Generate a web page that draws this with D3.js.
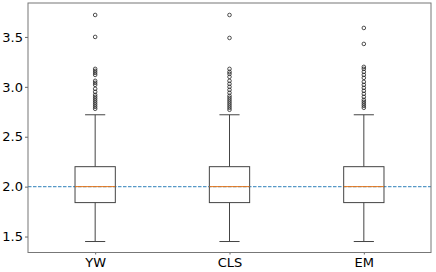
<!DOCTYPE html>
<html>
<head>
<meta charset="utf-8">
<script src="https://cdn.jsdelivr.net/npm/d3@7"></script>
<style>
    body { margin: 0; background: #fff; }
    svg { display: block; font-family: "DejaVu Sans", sans-serif; }
</style>
</head>
<body>
<div id="chart"></div>
<script>
const width = 436;
const height = 272;
const margin = {top: 3, right: 5, bottom: 19, left: 28};

// box statistics per method
const categories = ['YW', 'CLS', 'EM'];
const q1Values = [1.84, 1.84, 1.84];
const medianValues = [2.0, 2.0, 2.0];
const q3Values = [2.2, 2.2, 2.2];
const whiskerLow = [1.45, 1.45, 1.45];
const whiskerHigh = [2.72, 2.72, 2.72];
const outliersYW = [3.72, 3.50, 3.18, 3.16, 3.14, 3.12, 3.06, 3.04, 3.02, 2.98, 2.95, 2.92, 2.90, 2.88, 2.86, 2.84, 2.82, 2.80, 2.78];
const outliersCLS = [3.72, 3.49, 3.18, 3.15, 3.13, 3.10, 3.06, 3.03, 3.00, 2.97, 2.94, 2.91, 2.89, 2.87, 2.85, 2.83, 2.81, 2.79, 2.77];
const outliersEM = [3.59, 3.43, 3.20, 3.18, 3.15, 3.12, 3.09, 3.05, 3.02, 2.99, 2.96, 2.93, 2.90, 2.87, 2.85, 2.83, 2.81, 2.79];
const referenceValue = 2.0;
const yTicks = [1.5, 2.0, 2.5, 3.0, 3.5];

const outliers = [outliersYW, outliersCLS, outliersEM];

const svg = d3.select('#chart')
    .append('svg')
    .attr('width', width)
    .attr('height', height);

let x = d3.scaleLinear()
    .domain([0.5, 3.5])
    .range([margin.left, width - margin.right]);

let y = d3.scaleLinear()
    .domain([1.34, 3.84])
    .range([height - margin.bottom - 0.5, margin.top]);

const boxWidth = 0.3;
const capWidth = 0.15;

// reference line at 2.0
svg.append('line')
    .attr('x1', x(0.5))
    .attr('x2', x(3.5))
    .attr('y1', y(referenceValue))
    .attr('y2', y(referenceValue))
    .attr('stroke', '#1f77b4')
    .attr('stroke-opacity', 0.75)
    .attr('stroke-width', 1.2)
    .attr('stroke-dasharray', '3.5,1.5');

const boxes = svg.selectAll('g.box')
    .data(categories)
    .enter()
    .append('g')
    .attr('class', 'box');

boxes.each(function (d, i) {
    let g = d3.select(this);
    let pos = i + 1;
    // whiskers
    g.append('line')
        .attr('x1', x(pos)).attr('x2', x(pos))
        .attr('y1', y(q3Values[i])).attr('y2', y(whiskerHigh[i]))
        .attr('stroke', '#444').attr('stroke-width', 1);
    g.append('line')
        .attr('x1', x(pos)).attr('x2', x(pos))
        .attr('y1', y(q1Values[i])).attr('y2', y(whiskerLow[i]))
        .attr('stroke', '#444').attr('stroke-width', 1);
    // caps
    [whiskerHigh[i], whiskerLow[i]].forEach(v => {
        g.append('line')
            .attr('x1', x(pos - capWidth / 2)).attr('x2', x(pos + capWidth / 2))
            .attr('y1', y(v)).attr('y2', y(v))
            .attr('stroke', '#444').attr('stroke-width', 1);
    });
    // box
    g.append('rect')
        .attr('x', x(pos - boxWidth / 2))
        .attr('y', y(q3Values[i]))
        .attr('width', x(pos + boxWidth / 2) - x(pos - boxWidth / 2))
        .attr('height', y(q1Values[i]) - y(q3Values[i]))
        .attr('fill', 'none')
        .attr('stroke', '#444')
        .attr('stroke-width', 1);
    // median
    g.append('line')
        .attr('x1', x(pos - boxWidth / 2)).attr('x2', x(pos + boxWidth / 2))
        .attr('y1', y(medianValues[i])).attr('y2', y(medianValues[i]))
        .attr('stroke', '#e8761a').attr('stroke-width', 1);
    // fliers
    g.selectAll('circle')
        .data(outliers[i])
        .enter()
        .append('circle')
        .attr('cx', x(pos))
        .attr('cy', v => y(v))
        .attr('r', 1.8)
        .attr('fill', 'none')
        .attr('stroke', '#222')
        .attr('stroke-width', 0.8);
});

// axes
let yAxis = d3.axisLeft(y)
    .tickValues(yTicks)
    .tickFormat(d3.format('.1f'))
    .tickSize(3)
    .tickPadding(2);
let xAxis = d3.axisBottom(x)
    .tickValues([1, 2, 3])
    .tickFormat((d, i) => categories[i])
    .tickSize(2)
    .tickPadding(3);

let gy = svg.append('g')
    .attr('transform', 'translate(' + x(0.5) + ',0)')
    .call(yAxis);
let gx = svg.append('g')
    .attr('transform', 'translate(0,' + y(1.34) + ')')
    .call(xAxis);

[gx, gy].forEach(g => {
    g.select('.domain').remove();
    g.selectAll('line').attr('stroke', '#666');
    g.selectAll('text')
        .attr('fill', '#000')
        .style('font-size', '13px')
        .style('font-family', '"DejaVu Sans", sans-serif');
});

// frame
svg.append('rect')
    .attr('x', x(0.5))
    .attr('y', y(3.84))
    .attr('width', x(3.5) - x(0.5))
    .attr('height', y(1.34) - y(3.84))
    .attr('fill', 'none')
    .attr('stroke', '#777')
    .attr('stroke-width', 1);
</script>
</body>
</html>
